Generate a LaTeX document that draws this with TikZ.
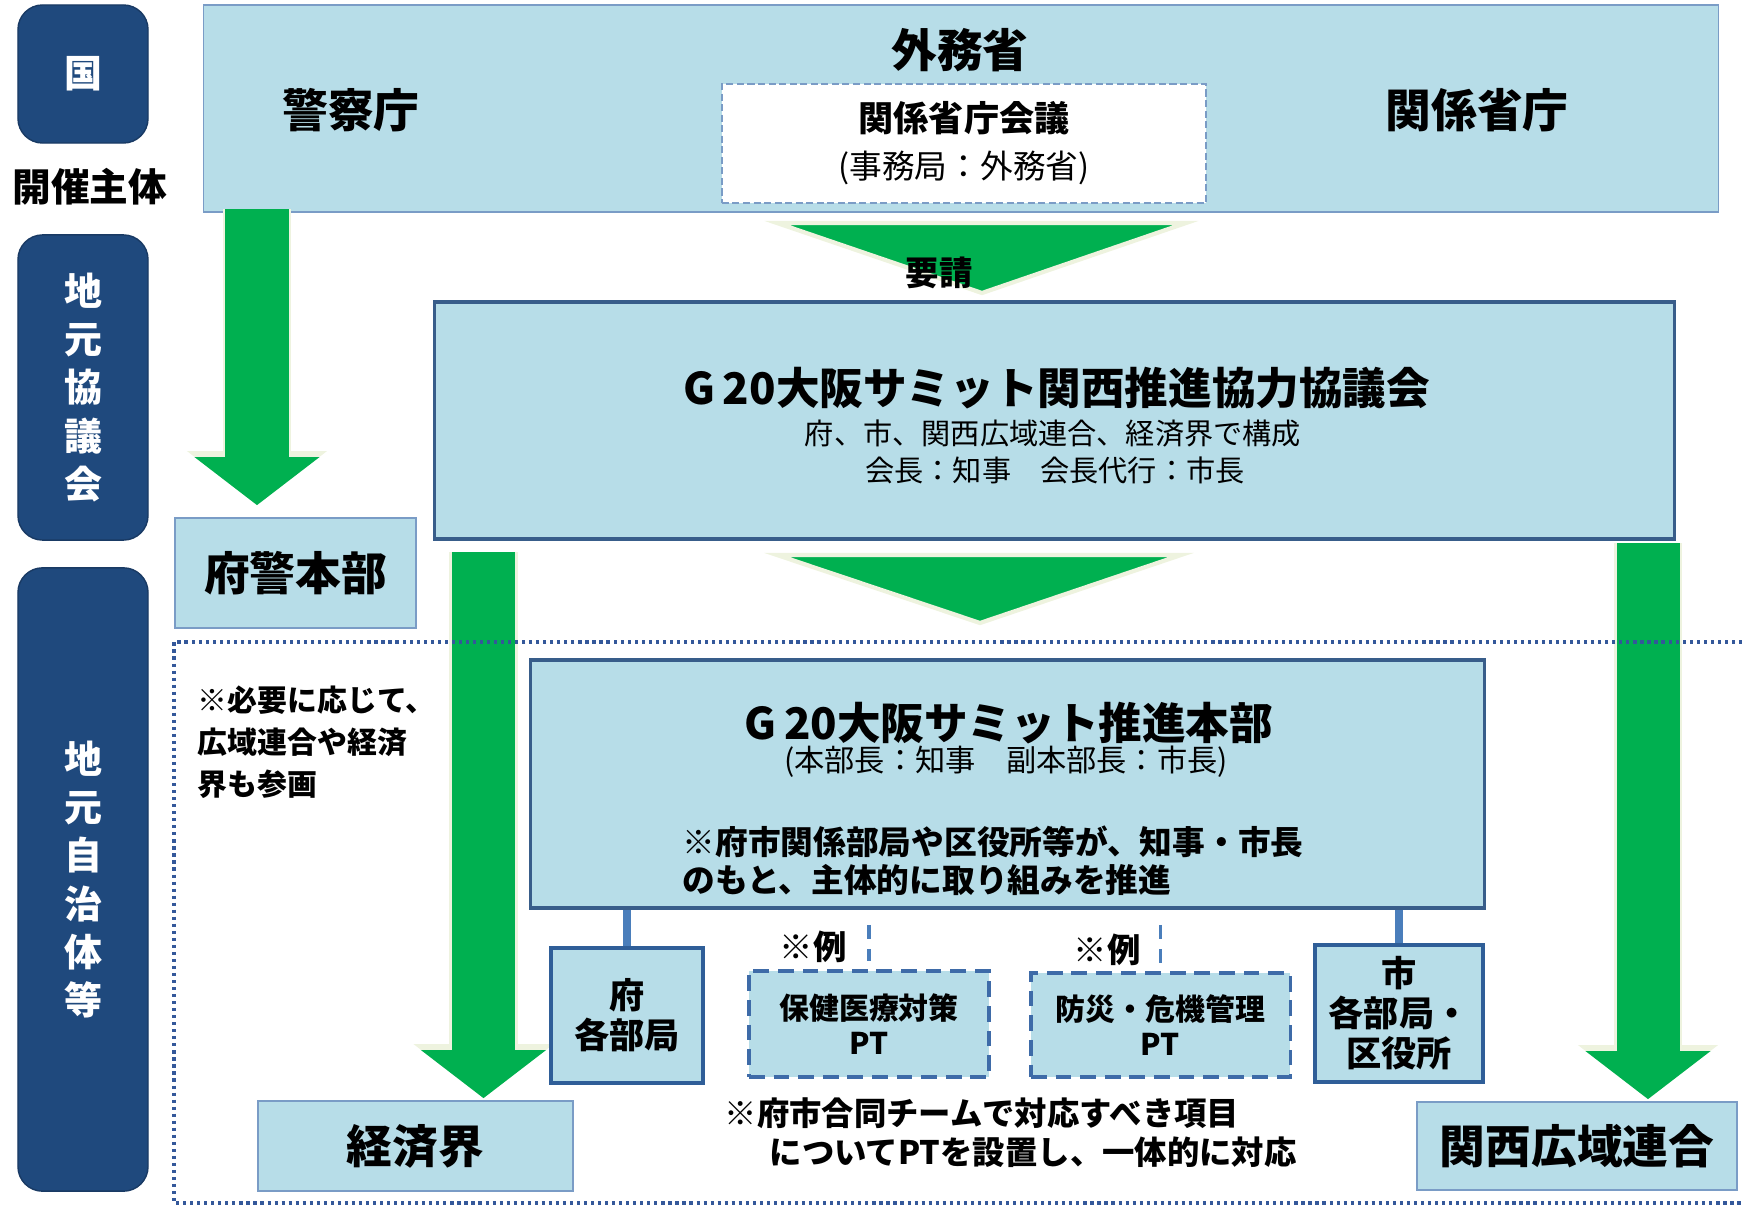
\documentclass[tikz,border=0pt]{standalone}
\usepackage{fontspec}
\setmainfont{Noto Sans CJK JP}
\usetikzlibrary{arrows.meta}
\definecolor{paleblue}{HTML}{B7DDE8}
\definecolor{navy}{HTML}{1F497D}
\definecolor{frameblue}{HTML}{385D8A}
\definecolor{thinblue}{HTML}{7A9CC6}
\definecolor{unitblue}{HTML}{2F5E98}
\definecolor{ptblue}{HTML}{3E6BA8}
\definecolor{linkblue}{HTML}{4A7EBB}
\definecolor{dotblue}{HTML}{34589A}
\definecolor{arrowgreen}{HTML}{00B050}
\definecolor{cream}{HTML}{EEF3DF}

\begin{document}
\begin{tikzpicture}[x=0.01cm, y=-0.01cm,
  box/.style={draw=thinblue, fill=paleblue, line width=0.5pt, inner sep=0pt},
  mainbox/.style={draw=frameblue, fill=paleblue, line width=1pt, inner sep=0pt},
  unitbox/.style={draw=unitblue, fill=paleblue, line width=1.1pt, inner sep=0pt, align=center, font=\fontsize{10}{11.4}\selectfont\bfseries},
  ptbox/.style={draw=ptblue, fill=paleblue, line width=0.9pt, dash pattern=on 4.5pt off 2.5pt, inner sep=0pt, align=center, font=\fontsize{8.5}{10}\selectfont\bfseries},
  tag/.style={fill=navy, draw=navy!80!black, rounded corners=7pt, text=white, align=center, inner sep=0pt, minimum width=1.3cm, font=\fontsize{10.8}{13.7}\selectfont\bfseries},
  big/.style={font=\fontsize{13}{15}\selectfont\bfseries},
  title/.style={font=\fontsize{12.4}{14}\selectfont\bfseries},
  small/.style={font=\fontsize{8.3}{10}\selectfont},
  note/.style={anchor=west, align=left, inner sep=0pt},
  rei/.style={font=\fontsize{9.5}{11}\selectfont\bfseries},
  garrow/.style={draw=arrowgreen, line width=6.3mm, -{Triangle[width=12.5mm, length=4.8mm, line width=0pt]},
    preaction={draw=cream, line width=6.8mm, -{Triangle[width=14mm, length=5.4mm, line width=0pt]}}},
  gtri/.style={fill=arrowgreen, draw=cream, line width=1.2pt},
  link/.style={draw=linkblue, line width=2pt},
  stub/.style={draw=linkblue, line width=1pt, dash pattern=on 4pt off 3pt},
  area/.style={draw=dotblue, line width=0.9pt, dash pattern=on 0.9pt off 1.1pt}]
\useasboundingbox (0,0) rectangle (1742,1206);

\node[tag, minimum height=1.38cm] (kuni) at (83,74) {国};
\node[font=\fontsize{11}{13}\selectfont\bfseries] (kaisai) at (90,187) {開催主体};
\node[tag, minimum height=3.05cm] (jimoto) at (83,387.5) {地\\元\\協\\議\\会};
\node[tag, minimum height=6.23cm] (jichi) at (83,879.5) {地\\元\\自\\治\\体\\等};

\node[box, minimum width=15.14cm, minimum height=2.07cm] (gaimu) at (961,108.5) {};
\node[big] (gaimusho) at (960,50) {外務省};
\node[big] (keisatsu) at (351,110) {警察庁};
\node[big] (kankei) at (1477,110) {関係省庁};
\node[draw=thinblue, fill=white, line width=0.5pt, dash pattern=on 2pt off 1pt, minimum width=4.84cm, minimum height=1.19cm, align=center, font=\fontsize{9.3}{13.4}\selectfont] (kaigi) at (964,143.5) {{\fontsize{10}{13.4}\selectfont\bfseries 関係省庁会議}\\(事務局：外務省)};

\draw[gtri] (777,223) -- (1186,223) -- (982,293) -- cycle;
\node[rei] (yosei) at (939,273) {要請};

\node[mainbox, minimum width=12.39cm, minimum height=2.37cm] (kyogikai) at (1054.5,420.5) {};
\node[title] (kyogikaiT) at (1057,388) {G\,20大阪サミット関西推進協力協議会};
\node[small] (kosei) at (1053,433) {府、市、関西広域連合、経済界で構成};
\node[small] (kaicho) at (1055,470) {会長：知事\quad 会長代行：市長};

\node[box, big, minimum width=2.41cm, minimum height=1.10cm] (fukei) at (295.5,573) {府警本部};
\node[box, big, minimum width=3.15cm, minimum height=0.90cm] (keizai) at (415.5,1146) {経済界};
\node[box, big, minimum width=3.20cm, minimum height=0.88cm] (kansai) at (1577,1146) {関西広域連合};

\draw[gtri] (777,555) -- (1181,555) -- (980,623) -- cycle;

\coordinate (a1) at (257,209);
\coordinate (a2) at (483.5,552);
\coordinate (a3) at (1648,543);
\draw[garrow, shorten >=0.12cm] (a1) -- (a1 |- fukei.north);
\draw[garrow, shorten >=0.02cm] (a2) -- (a2 |- keizai.north);
\draw[garrow, shorten >=0.02cm] (a3) -- (a3 |- kansai.north);

\draw[area] (1742,642) -- (174,642) -- (174,1203) -- (1742,1203);

\node[note, font=\fontsize{8.5}{12}\selectfont\bfseries] (sanka) at (197,742) {※必要に応じて、\\広域連合や経済\\界も参画};

\node[mainbox, minimum width=9.53cm, minimum height=2.48cm] (honbu) at (1007.5,784) {};
\node[title] (honbuT) at (1009,723) {G\,20大阪サミット推進本部};
\node[small, font=\fontsize{8.6}{10}\selectfont] (honbuS) at (1006,762) {(本部長：知事\quad 副本部長：市長)};
\node[note, font=\fontsize{9.3}{10.8}\selectfont\bfseries] (honbuN) at (682,861) {※府市関係部局や区役所等が、知事・市長\\のもと、主体的に取り組みを推進};

\node[unitbox, minimum width=1.52cm, minimum height=1.35cm] (fu) at (627,1015.5) {府\\各部局};
\node[unitbox, minimum width=1.68cm, minimum height=1.37cm] (shi) at (1399,1013.5) {市\\各部局・\\区役所};
\node[ptbox, minimum width=2.40cm, minimum height=1.06cm] (pt1) at (869,1024) {保健医療対策\\PT};
\node[ptbox, minimum width=2.59cm, minimum height=1.04cm] (pt2) at (1160.5,1025) {防災・危機管理\\PT};
\node[rei] (rei1) at (813,947) {※例};
\node[rei] (rei2) at (1107,950) {※例};

\draw[link] (fu.north) -- (fu.north |- honbu.south);
\draw[link] (shi.north) -- (shi.north |- honbu.south);
\draw[stub, shorten <=0.15cm, shorten >=0.08cm] (pt1.north |- honbu.south) -- (pt1.north);
\draw[stub, shorten <=0.15cm, shorten >=0.08cm] (pt2.north |- honbu.south) -- (pt2.north);

\node[note, font=\fontsize{9.2}{11.1}\selectfont\bfseries] (godo) at (724,1132.5) {※府市合同チームで対応すべき項目\\\hspace*{12.8pt}についてPTを設置し、一体的に対応};
\end{tikzpicture}
\end{document}
